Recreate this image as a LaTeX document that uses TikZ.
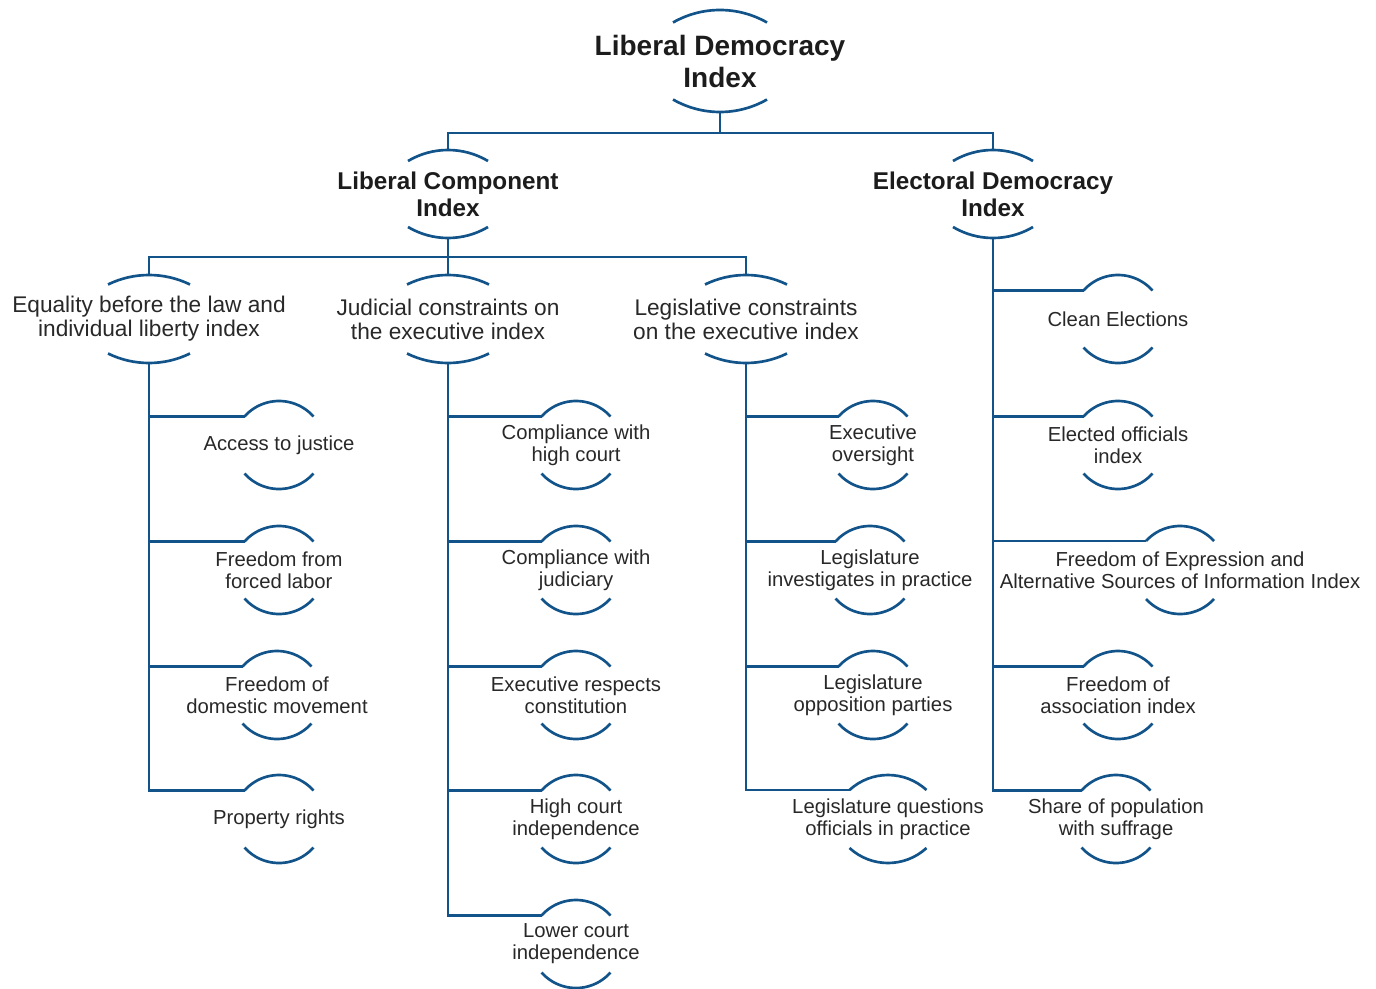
\documentclass[tikz,border=0pt]{standalone}
\usepackage{fontspec}
\setmainfont{Liberation Sans}
\usetikzlibrary{calc}
\definecolor{IdxBlue}{RGB}{18,84,138}
\definecolor{IdxText}{RGB}{40,40,40}
\definecolor{IdxHead}{RGB}{28,28,28}

% two arcs above and below a node: name, half width, rise of the ends, sag
\newcommand{\capnode}[4]{%
  \pgfmathsetmacro{\capR}{(#2*#2+#4*#4)/(2*#4)}%
  \pgfmathsetmacro{\capA}{asin(#2/\capR)}%
  \coordinate (#1-t) at ($(#1)+(0,#3+#4)$);
  \coordinate (#1-b) at ($(#1)+(0,-#3-#4)$);
  \coordinate (#1-tl) at ($(#1)+(-#2,#3)$);
  \draw[arcline] (#1-tl) arc[start angle=90+\capA, end angle=90-\capA, radius=\capR];
  \draw[arcline] ($(#1)+(-#2,-#3)$) arc[start angle=270-\capA, end angle=270+\capA, radius=\capR];
}

\begin{document}
\begin{tikzpicture}[x=0.75pt,y=0.75pt,
    arcline/.style={IdxBlue,line width=2pt},
    link/.style={IdxBlue,line width=2pt},
    topidx/.style={inner sep=0pt,align=center,text=IdxHead,font=\bfseries\fontsize{21}{24}\selectfont},
    subidx/.style={inner sep=0pt,align=center,text=IdxHead,font=\bfseries\fontsize{18.2}{20.3}\selectfont},
    mididx/.style={inner sep=0pt,align=center,text=IdxText,font=\fontsize{17}{18}\selectfont},
    leaf/.style={inner sep=0pt,align=center,text=IdxText,font=\fontsize{15.2}{16.5}\selectfont}]
  \useasboundingbox (0,0) rectangle (1376,-988);

  % index levels
  \node[topidx] (ldi) at (720,-61) {Liberal Democracy\\Index};
  \node[subidx] (lci) at (448,-194) {Liberal Component\\Index};
  \node[subidx] (edi) at (993,-194) {Electoral Democracy\\Index};
  \node[mididx] (equal) at (149,-319) {Equality before the law and\\individual liberty index};
  \node[mididx] (judic) at (448,-319) {Judicial constraints on\\the executive index};
  \node[mididx] (legis) at (746,-319) {Legislative constraints\\on the executive index};

  % indicators
  \node[leaf] (access) at (279,-445) {Access to justice};
  \node[leaf] (forced) at (279,-570) {Freedom from\\forced labor};
  \node[leaf] (domestic) at (277,-695) {Freedom of\\domestic movement};
  \node[leaf] (property) at (279,-819) {Property rights};

  \node[leaf] (highct) at (576,-445) {Compliance with\\high court};
  \node[leaf] (judiciary) at (576,-570) {Compliance with\\judiciary};
  \node[leaf] (constit) at (576,-695) {Executive respects\\constitution};
  \node[leaf] (hcindep) at (576,-819) {High court\\independence};
  \node[leaf] (lcindep) at (576,-944) {Lower court\\independence};

  \node[leaf] (oversight) at (873,-445) {Executive\\oversight};
  \node[leaf] (investig) at (870,-570) {Legislature\\investigates in practice};
  \node[leaf] (opposit) at (873,-695) {Legislature\\opposition parties};
  \node[leaf] (questions) at (888,-819) {Legislature questions\\officials in practice};

  \node[leaf] (clean) at (1118,-319) {Clean Elections};
  \node[leaf] (elected) at (1118,-445) {Elected officials\\index};
  \node[leaf] (express) at (1180,-570) {Freedom of Expression and\\Alternative Sources of Information Index};
  \node[leaf] (assoc) at (1118,-695) {Freedom of\\association index};
  \node[leaf] (suffrage) at (1116,-819) {Share of population\\with suffrage};

  % arcs
  \capnode{ldi}{47}{38.5}{12.5}
  \capnode{lci}{40}{33}{11}
  \capnode{edi}{40}{33}{11}
  \foreach \mid in {equal,judic,legis} {\capnode{\mid}{41}{34.5}{9.5}}
  \foreach \leaf in {access,forced,domestic,property,highct,judiciary,constit,hcindep,lcindep,
      oversight,investig,opposit,clean,elected,assoc,suffrage} {\capnode{\leaf}{34.5}{28.5}{15.5}}
  \capnode{express}{34}{29}{15}
  \capnode{questions}{38.5}{29}{15}

  % tree lines
  \draw[link] (ldi-b) -- ++(0,-21) coordinate (ldi-bus);
  \draw[link] (lci-t) |- (ldi-bus) -| (edi-t);
  \draw[link] (lci-b) -- ++(0,-19) coordinate (lci-bus);
  \draw[link] (equal-t) |- (lci-bus) -| (legis-t);
  \draw[link] (lci-bus) -- (judic-t);
  \foreach \leaf in {access,forced,domestic,property}
    \draw[link] (equal-b) |- (\leaf-tl);
  \foreach \leaf in {highct,judiciary,constit,hcindep,lcindep}
    \draw[link] (judic-b) |- (\leaf-tl);
  \foreach \leaf in {oversight,investig,opposit,questions}
    \draw[link] (legis-b) |- (\leaf-tl);
  \foreach \leaf in {clean,elected,express,assoc,suffrage}
    \draw[link] (edi-b) |- (\leaf-tl);
\end{tikzpicture}
\end{document}
